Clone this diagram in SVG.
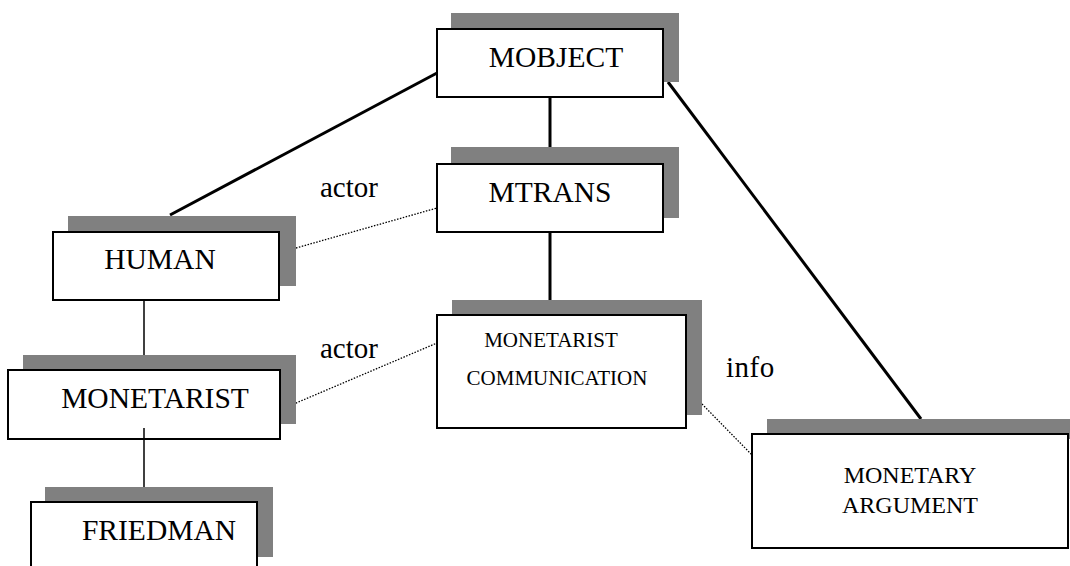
<svg xmlns="http://www.w3.org/2000/svg" width="1070" height="566" viewBox="0 0 1070 566" font-family="'Liberation Serif', 'Times New Roman', 'DejaVu Serif', serif">
<style>
.sh{fill:#808080;stroke:none}
.bx{fill:#fff;stroke:#000;stroke-width:2}
text{font-family:'Liberation Serif','Times New Roman','DejaVu Serif',serif;fill:#000}
.t{font-size:29.5px;text-anchor:middle}
.ts{font-size:21px;text-anchor:middle}
.tm{font-size:24px;text-anchor:middle}
.lbl{font-size:29px}
.thick{stroke:#000;stroke-width:3;fill:none}
.thin{stroke:#000;stroke-width:1.5;fill:none}
.dot{stroke:#000;stroke-width:1.3;stroke-dasharray:1.5 1.5;fill:none}
</style>
<rect width="1070" height="566" fill="#fff"/>
<g id="connectors">
<line class="thick" x1="437" y1="73" x2="170" y2="215"/>
<line class="thick" x1="550" y1="97" x2="550" y2="147"/>
<line class="thick" x1="550" y1="232" x2="550" y2="300"/>
<line class="thick" x1="668" y1="82" x2="921" y2="419"/>
<line class="thin" x1="144" y1="300" x2="144" y2="367"/>
<line class="thin" x1="144" y1="428" x2="144" y2="487"/>
<line class="dot" x1="296" y1="248" x2="437" y2="208"/>
<line class="dot" x1="282" y1="409" x2="437" y2="343"/>
<line class="dot" x1="702" y1="404" x2="752" y2="455"/>
<text class="lbl" x="320" y="197">actor</text>
<text class="lbl" x="320" y="358">actor</text>
<text class="lbl" x="726" y="377" letter-spacing="0.5">info</text>
</g>
<g id="mobject">
<rect class="sh" x="451" y="13" width="228" height="69"/>
<rect class="bx" x="437" y="29" width="226" height="68"/>
<text class="t" x="556" y="67">MOBJECT</text>
</g>
<g id="mtrans">
<rect class="sh" x="451" y="147" width="228" height="71"/>
<rect class="bx" x="437" y="164" width="226" height="68"/>
<text class="t" x="550" y="202">MTRANS</text>
</g>
<g id="human">
<rect class="sh" x="68" y="216" width="228" height="70"/>
<rect class="bx" x="53" y="232" width="226" height="68"/>
<text class="t" x="160" y="269">HUMAN</text>
</g>
<g id="monetarist">
<rect class="sh" x="23" y="355" width="273" height="69"/>
<rect class="bx" x="8" y="370" width="272" height="69"/>
<text class="t" x="155" y="408">MONETARIST</text>
<line class="thin" x1="144" y1="428" x2="144" y2="440"/>
</g>
<g id="friedman">
<rect class="sh" x="45" y="487" width="228" height="70"/>
<rect class="bx" x="31" y="502" width="226" height="80"/>
<text class="t" x="159" y="540">FRIEDMAN</text>
</g>
<g id="monetarist-communication">
<rect class="sh" x="452" y="300" width="250" height="115"/>
<rect class="bx" x="437" y="315" width="249" height="113"/>
<text class="ts" x="551" y="347">MONETARIST</text>
<text class="ts" x="557" y="385">COMMUNICATION</text>
</g>
<g id="monetary-argument">
<rect class="sh" x="767" y="419" width="310" height="20"/>
<rect class="bx" x="752" y="434" width="316" height="114"/>
<text class="tm" x="910" y="483">MONETARY</text>
<text class="tm" x="910" y="513">ARGUMENT</text>
</g>
</svg>
